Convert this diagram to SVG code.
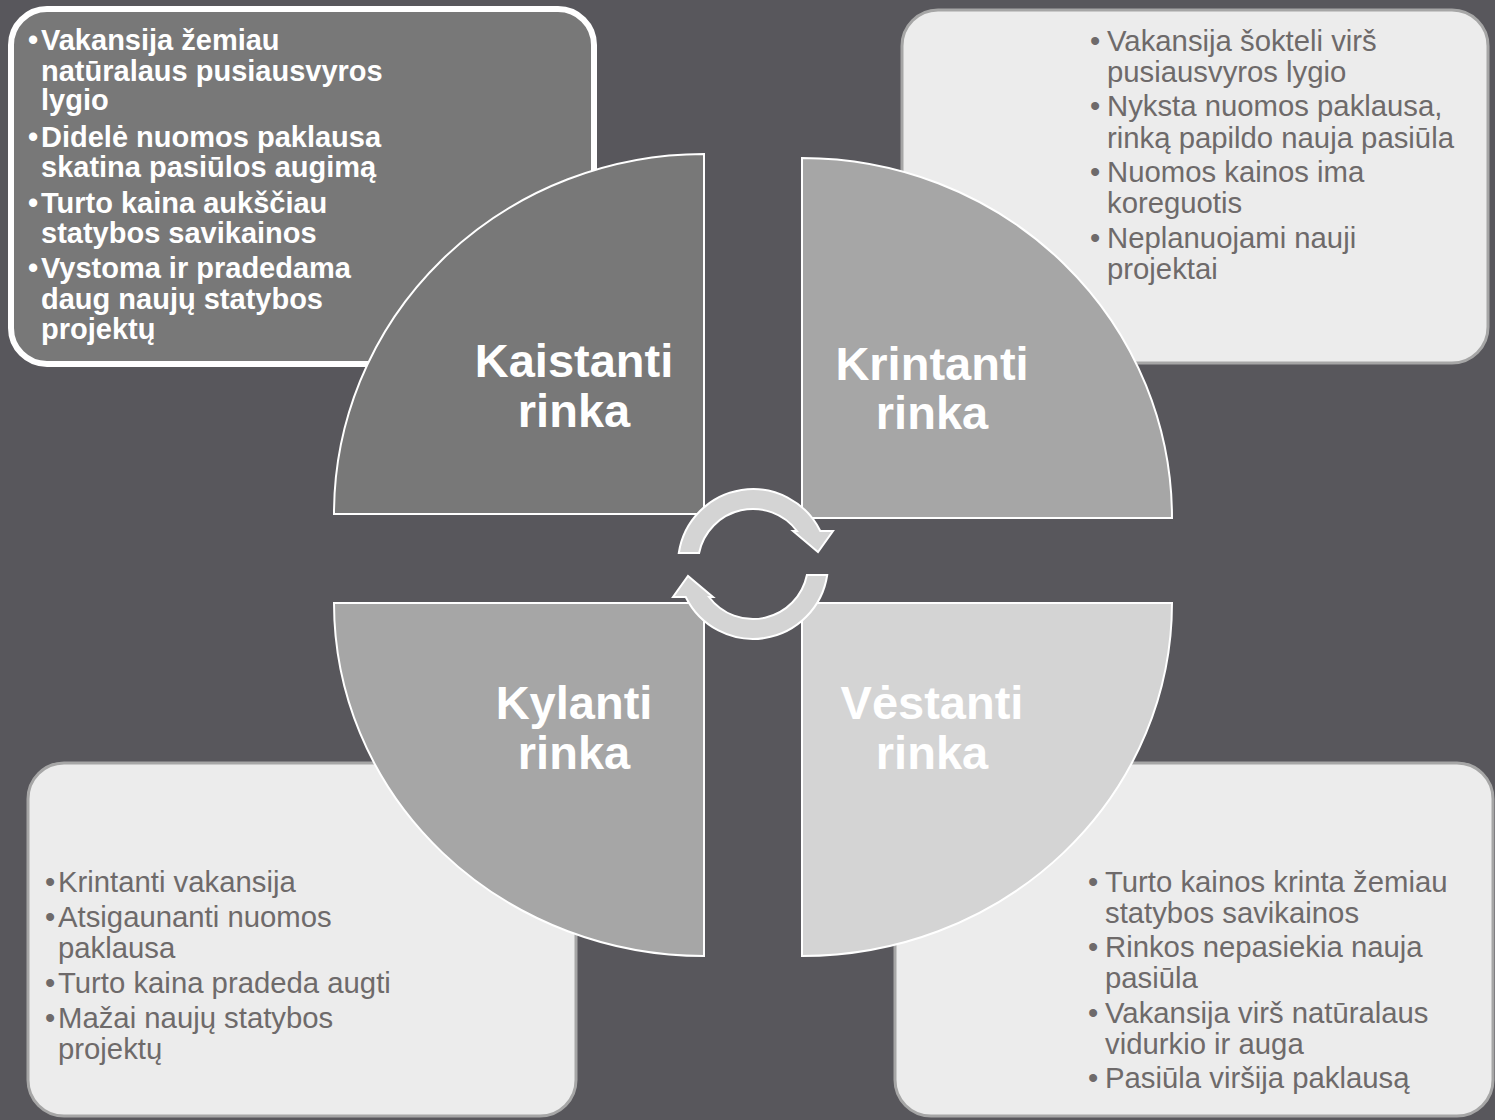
<svg xmlns="http://www.w3.org/2000/svg" width="1495" height="1120" viewBox="0 0 1495 1120">
<style>
.bg{fill:#58575c}
.boxd{fill:#787878;stroke:#ffffff;stroke-width:6}
.boxl{fill:#ececec;stroke:#a6a6a6;stroke-width:3}
.q{stroke:#ffffff;stroke-width:2}
.tb{font-family:"Liberation Sans",Arial,sans-serif;font-size:29px;font-weight:bold;fill:#ffffff}
.tl{font-family:"Liberation Sans",Arial,sans-serif;font-size:29.3px;fill:#6e6a6a}
.ql{font-family:"Liberation Sans",Arial,sans-serif;font-size:47px;font-weight:bold;fill:#ffffff;text-anchor:middle}
.arr{fill:#d4d4d4;stroke:#ffffff;stroke-width:2;stroke-linejoin:miter}
</style>
<rect class="bg" x="0" y="0" width="1495" height="1120"/>

<g id="box-kaistanti">
<rect class="boxd" x="11" y="9" width="583" height="355" rx="36" ry="36"/>
<text class="tb" x="28" y="50">•<tspan x="41">Vakansija žemiau</tspan></text>
<text class="tb" x="41" y="81">natūralaus pusiausvyros</text>
<text class="tb" x="41" y="110">lygio</text>
<text class="tb" x="28" y="147">•<tspan x="41">Didelė nuomos paklausa</tspan></text>
<text class="tb" x="41" y="177">skatina pasiūlos augimą</text>
<text class="tb" x="28" y="213">•<tspan x="41">Turto kaina aukščiau</tspan></text>
<text class="tb" x="41" y="243">statybos savikainos</text>
<text class="tb" x="28" y="278">•<tspan x="41">Vystoma ir pradedama</tspan></text>
<text class="tb" x="41" y="309">daug naujų statybos</text>
<text class="tb" x="41" y="339">projektų</text>
</g>

<g id="box-krintanti">
<rect class="boxl" x="902" y="10" width="586" height="353" rx="36" ry="36"/>
<text class="tl" x="1090" y="51">•<tspan x="1107">Vakansija šokteli virš</tspan></text>
<text class="tl" x="1107" y="82">pusiausvyros lygio</text>
<text class="tl" x="1090" y="116">•<tspan x="1107">Nyksta nuomos paklausa,</tspan></text>
<text class="tl" x="1107" y="148">rinką papildo nauja pasiūla</text>
<text class="tl" x="1090" y="182">•<tspan x="1107">Nuomos kainos ima</tspan></text>
<text class="tl" x="1107" y="213">koreguotis</text>
<text class="tl" x="1090" y="248">•<tspan x="1107">Neplanuojami nauji</tspan></text>
<text class="tl" x="1107" y="279">projektai</text>
</g>

<g id="box-kylanti">
<rect class="boxl" x="28" y="763" width="548" height="353" rx="36" ry="36"/>
<text class="tl" x="45" y="892">•<tspan x="58">Krintanti vakansija</tspan></text>
<text class="tl" x="45" y="927">•<tspan x="58">Atsigaunanti nuomos</tspan></text>
<text class="tl" x="58" y="958">paklausa</text>
<text class="tl" x="45" y="993">•<tspan x="58">Turto kaina pradeda augti</tspan></text>
<text class="tl" x="45" y="1028">•<tspan x="58">Mažai naujų statybos</tspan></text>
<text class="tl" x="58" y="1059">projektų</text>
</g>

<g id="box-vestanti">
<rect class="boxl" x="895" y="763" width="598" height="353" rx="36" ry="36"/>
<text class="tl" x="1088" y="892">•<tspan x="1105">Turto kainos krinta žemiau</tspan></text>
<text class="tl" x="1105" y="923">statybos savikainos</text>
<text class="tl" x="1088" y="957">•<tspan x="1105">Rinkos nepasiekia nauja</tspan></text>
<text class="tl" x="1105" y="988">pasiūla</text>
<text class="tl" x="1088" y="1023">•<tspan x="1105">Vakansija virš natūralaus</tspan></text>
<text class="tl" x="1105" y="1054">vidurkio ir auga</text>
<text class="tl" x="1088" y="1088">•<tspan x="1105">Pasiūla viršija paklausą</tspan></text>
</g>

<g id="q-kaistanti">
<path class="q" fill="#787878" d="M704,154 L704,514 L334,514 A370,360 0 0 1 704,154 Z"/>
<text class="ql" x="574" y="377">Kaistanti</text>
<text class="ql" x="574" y="427">rinka</text>
</g>
<g id="q-krintanti">
<path class="q" fill="#a6a6a6" d="M802,158 L802,518 L1172,518 A370,360 0 0 0 802,158 Z"/>
<text class="ql" x="932" y="380">Krintanti</text>
<text class="ql" x="932" y="429">rinka</text>
</g>
<g id="q-kylanti">
<path class="q" fill="#a6a6a6" d="M704,603 L334,603 A370,353 0 0 0 704,956 Z"/>
<text class="ql" x="574" y="719">Kylanti</text>
<text class="ql" x="574" y="769">rinka</text>
</g>
<g id="q-vestanti">
<path class="q" fill="#d4d4d4" d="M802,603 L1172,603 A370,353 0 0 1 802,956 Z"/>
<text class="ql" x="932" y="719">Vėstanti</text>
<text class="ql" x="932" y="769">rinka</text>
</g>

<g id="connectors" transform="translate(753,564)">
<path class="arr" d="M-74.2,-11 A75,75 0 0 1 67.3,-33 L80,-33 L65,-12 L40,-33 L44,-33 A55,55 0 0 0 -53.9,-11 Z"/>
<path class="arr" transform="rotate(180)" d="M-74.2,-11 A75,75 0 0 1 67.3,-33 L80,-33 L65,-12 L40,-33 L44,-33 A55,55 0 0 0 -53.9,-11 Z"/>
</g>
</svg>
